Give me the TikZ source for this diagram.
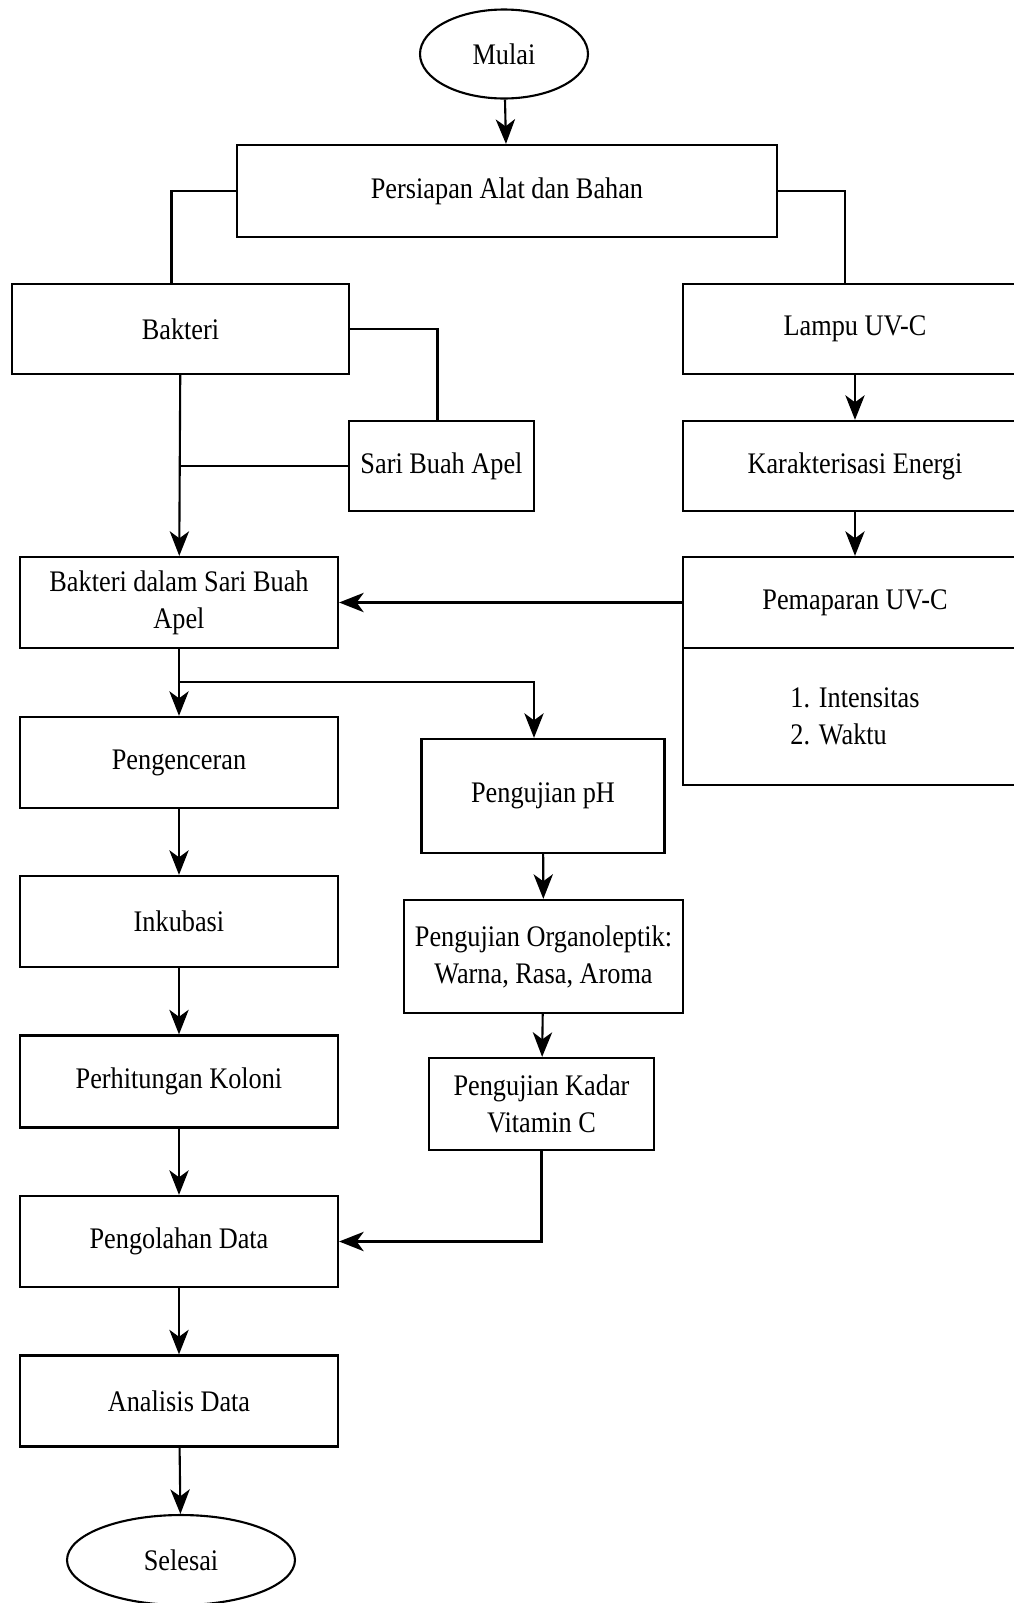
\documentclass[tikz,border=0pt]{standalone}
\usepackage{fontspec}
\setmainfont[FakeStretch=0.88]{Liberation Serif}
\usepackage{tikz}
\usetikzlibrary{arrows.meta,shapes.geometric}
\tikzset{
  proc/.style={draw=black, line width=1.3pt, rectangle, inner sep=0pt, align=center,
    font=\fontsize{17}{21}\selectfont, minimum height=1.82cm},
  term/.style={draw=black, line width=1.2pt, ellipse, inner sep=0pt,
    font=\fontsize{17}{21}\selectfont},
  link/.style={line width=1.2pt, draw=black},
  flow/.style={link, -{Stealth[length=14pt, width=11pt, inset=4pt]}}
}
\begin{document}
\begin{tikzpicture}[x=0.02cm, y=-0.02cm]
  \clip (0,0) rectangle (1014,1603);
  \fill[white] (0,0) rectangle (1014,1603);

  \node[term, minimum width=3.36cm, minimum height=1.78cm] (mulai) at (504,54) {Mulai};
  \node[proc, minimum width=10.8cm, minimum height=1.84cm] (persiapan) at (507,191) {Persiapan Alat dan Bahan};

  \node[proc, minimum width=6.74cm, minimum height=1.8cm] (bakteri) at (180.5,329) {Bakteri};
  \node[proc, minimum width=3.7cm, minimum height=1.8cm] (sari) at (441.5,466) {Sari Buah Apel};
  \node[proc, minimum width=6.36cm] (campur) at (179,602.5) {Bakteri dalam Sari Buah\\Apel};

  \node[proc, minimum width=6.88cm, minimum height=1.8cm] (lampu) at (855,329) {Lampu UV-C};
  \node[proc, minimum width=6.88cm, minimum height=1.8cm] (energi) at (855,466) {Karakterisasi Energi};
  \node[proc, minimum width=6.88cm] (papar) at (855,602.5) {Pemaparan UV-C};
  \node[proc, minimum width=6.88cm, minimum height=2.74cm, align=left] (param) at (855,716.5) {1. Intensitas\\2. Waktu};

  \node[proc, minimum width=6.36cm] (encer) at (179,762.5) {Pengenceran};
  \node[proc, minimum width=6.36cm] (inkubasi) at (179,921.5) {Inkubasi};
  \node[proc, minimum width=6.36cm, minimum height=1.84cm] (koloni) at (179,1081.5) {Perhitungan Koloni};
  \node[proc, minimum width=6.36cm] (olah) at (179,1241.5) {Pengolahan Data};
  \node[proc, minimum width=6.36cm] (analisis) at (179,1401) {Analisis Data};
  \node[term, minimum width=4.56cm, minimum height=1.8cm] (selesai) at (181,1560) {Selesai};

  \node[proc, minimum width=4.86cm, minimum height=2.28cm] (ph) at (543,796) {Pengujian pH};
  \node[proc, minimum width=5.58cm, minimum height=2.26cm] (organo) at (543.5,956.5) {Pengujian Organoleptik:\\Warna, Rasa, Aroma};
  \node[proc, minimum width=4.5cm, minimum height=1.84cm] (vitc) at (541.5,1104) {Pengujian Kadar\\Vitamin C};

  \coordinate (cabang) at (179,682);

  \draw[flow] (mulai) -- (persiapan);
  \draw[link] (persiapan.west) -| ([xshift=-0.18cm]bakteri.north);
  \draw[link] (persiapan.east) -| ([xshift=-0.2cm]lampu.north);
  \draw[link] (bakteri.east) -| ([xshift=-0.08cm]sari.north);
  \draw[link] (sari.west) -- (bakteri.south |- sari.west);
  \draw[flow] (bakteri) -- (campur);

  \draw[flow] (lampu) -- (energi);
  \draw[flow] (energi) -- (papar);
  \draw[flow] (papar.west) -- (campur.east);

  \draw[flow] (campur) -- (encer);
  \draw[flow] (cabang) -| ([xshift=-0.18cm]ph.north);
  \draw[flow] (encer) -- (inkubasi);
  \draw[flow] (inkubasi) -- (koloni);
  \draw[flow] (koloni) -- (olah);
  \draw[flow] (olah) -- (analisis);
  \draw[flow] (analisis) -- (selesai);

  \draw[flow] (ph) -- (organo);
  \draw[flow] (organo) -- (vitc);
  \draw[flow] (vitc.south) |- (olah.east);
\end{tikzpicture}
\end{document}
